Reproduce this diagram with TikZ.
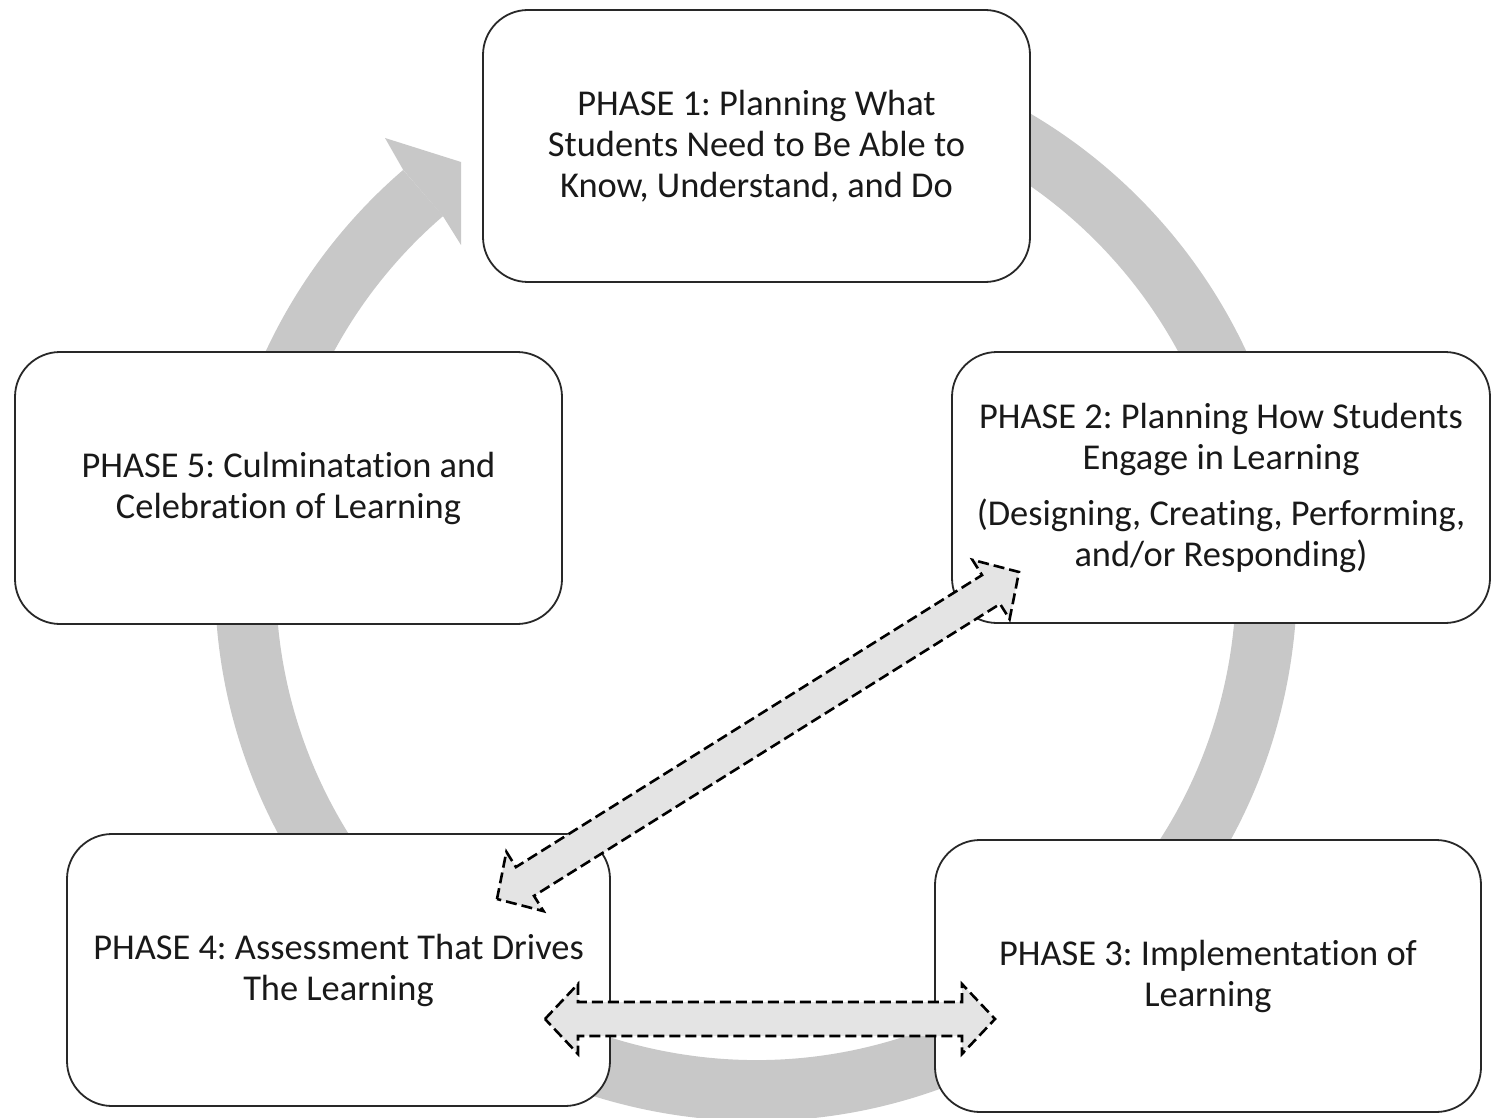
\documentclass[tikz,border=0pt]{standalone}
\usepackage{fontspec}
\setmainfont{Carlito}[Ligatures={NoCommon}]
\usetikzlibrary{calc}
\definecolor{ringgray}{RGB}{200,200,200}
\definecolor{arrowfill}{RGB}{228,228,228}
\definecolor{boxline}{RGB}{40,40,40}
\newcommand{\phasearrow}[2]{%
  \coordinate (pa1) at ($(#1)!33pt!(#2)$);
  \coordinate (pa2) at ($(#2)!33pt!(#1)$);
  \draw[dasharrow] (#1)
    -- ($(pa1)!35pt!90:(#2)$) -- ($(pa1)!17pt!90:(#2)$)
    -- ($(pa2)!17pt!-90:(#1)$) -- ($(pa2)!35pt!-90:(#1)$)
    -- (#2)
    -- ($(pa2)!35pt!90:(#1)$) -- ($(pa2)!17pt!90:(#1)$)
    -- ($(pa1)!17pt!-90:(#2)$) -- ($(pa1)!35pt!-90:(#2)$)
    -- cycle;}
\tikzset{
  phasebox/.style={draw=boxline, line width=1.8pt, fill=white, rounded corners=45pt,
    align=center, inner sep=0pt, text=black!90,
    font=\frenchspacing\fontsize{36.4}{41}\selectfont},
  ring/.style={draw=ringgray, line width=61pt},
  dasharrow/.style={draw=black, fill=arrowfill, line width=2.6pt, dash pattern=on 11pt off 5pt}
}
\begin{document}
\begin{tikzpicture}[x=1pt,y=-1pt]
\useasboundingbox (0,0) rectangle (1491,1118);
\fill[white] (0,0) rectangle (1491,1118);
% ring
\coordinate (rc) at (756,580);
\draw[ring] ($(rc)+(-80:510.5)$) arc[start angle=-80, end angle=229.3, radius=510.5];
\fill[ringgray] (403.2,169.9) -- (385,138) -- (461,162) -- (461,245) -- (443,216.2) -- cycle;
% boxes
\node[phasebox, minimum width=547pt, minimum height=272pt] (p1) at (756.5,146)
  {PHASE 1: Planning What\\Students Need to Be Able to\\Know, Understand, and Do};
\node[phasebox, minimum width=538pt, minimum height=271pt] (p2) at (1221,487.5)
  {PHASE 2: Planning How Students\\Engage in Learning\\[15pt](Designing, Creating, Performing,\\and/or Responding)};
\node[phasebox, minimum width=547pt, minimum height=272pt] (p5) at (288.5,488)
  {PHASE 5: Culminatation and\\Celebration of Learning};
\node[phasebox, minimum width=543pt, minimum height=272pt] (p4) at (338.5,970)
  {PHASE 4: Assessment That Drives\\The Learning};
\node[phasebox, minimum width=546pt, minimum height=272pt] (p3) at (1208,976)
  {PHASE 3: Implementation of\\Learning};
% dashed double arrows
\coordinate (a4) at (497,899);
\coordinate (a2) at (1019,572);
\coordinate (h4) at (545,1019);
\coordinate (h3) at (995,1019);
\phasearrow{a4}{a2}
\phasearrow{h4}{h3}
\end{tikzpicture}
\end{document}
